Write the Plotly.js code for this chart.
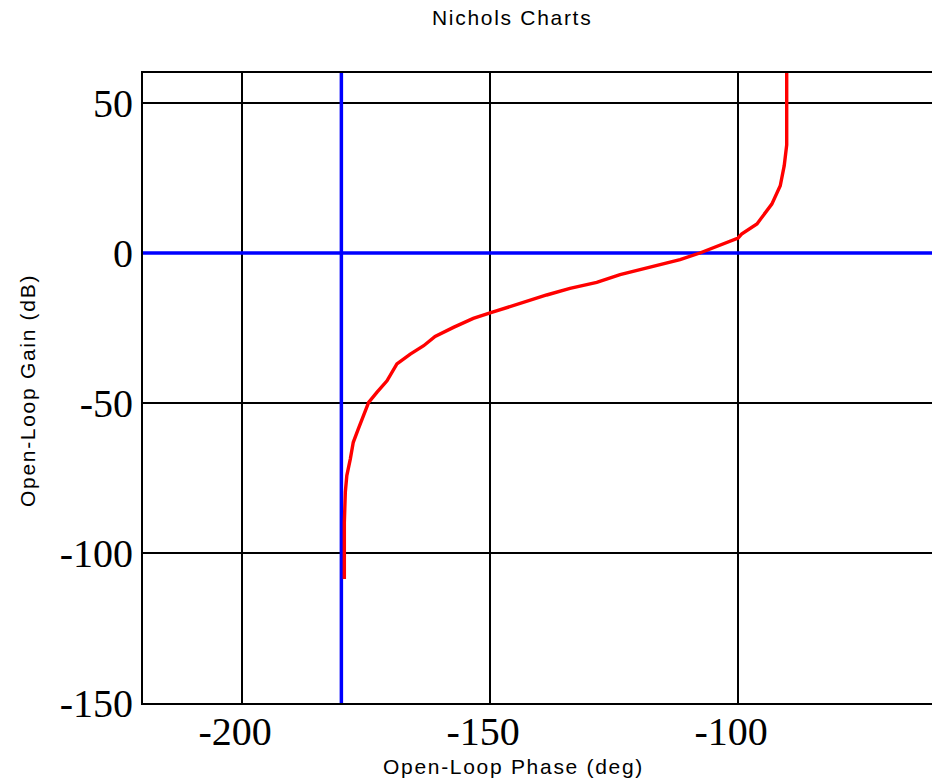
<!DOCTYPE html>
<html>
<head>
<meta charset="utf-8">
<script src="https://cdn.plot.ly/plotly-3.0.1.min.js"></script>
<style>
html,body{margin:0;padding:0;background:#fff;}
#chart{width:932px;height:779px;}
.annotation-text{letter-spacing:1.7px;}
</style>
</head>
<body>
<div id="chart"></div>
<script>
// Open-loop Nichols curve (phase in deg, gain in dB)
const phase = [-179.4, -179.4, -179.2, -178.9, -178.2, -177.6, -176.6, -175.5, -174.5, -172.8,
  -170.8, -168.8, -166.1, -163.4, -161.1, -157.4, -153.4, -149.7, -144.0, -138.6,
  -133.9, -128.5, -123.8, -118.4, -111.7, -107.7, -103.0, -100.0, -99.3, -96.2,
  -93.2, -91.5, -90.7, -90.3, -90.2, -90.2];
const gain = [-108.7, -89.8, -79.7, -74.2, -68.7, -63.1, -58.7, -54.2, -49.8, -46.4,
  -42.6, -37.0, -33.7, -30.9, -27.8, -24.8, -21.8, -19.8, -16.7, -14.0,
  -11.8, -9.8, -7.2, -5.0, -2.2, 0.0, 3.0, 5.0, 6.3, 9.7,
  16.3, 22.4, 29.1, 34.7, 36.0, 62.0];

// Reference (critical) lines: -180 deg and 0 dB
const critPhaseX = [-180, -180];
const critPhaseY = [-150, 60];
const zeroGainX = [-220, -60];
const zeroGainY = [0, 0];

const xTicks = [-200, -150, -100];
const yTicks = [-150, -100, -50, 0, 50];

const traces = [
  {x: critPhaseX, y: critPhaseY, mode: 'lines', line: {color: '#0000ff', width: 3.5}, hoverinfo: 'skip'},
  {x: zeroGainX, y: zeroGainY, mode: 'lines', line: {color: '#0000ff', width: 3.5}, hoverinfo: 'skip'},
  {x: phase, y: gain, mode: 'lines', line: {color: '#ff0000', width: 3.4}}
];

const L = 143, R = 932, T = 73, B = 76, H = 779;
const py = p => (H - p - B) / (H - T - B);
const px = p => (p - L) / (R - L);
const layout = {
  width: 932, height: 779,
  margin: {l: L, r: 0, t: T, b: B},
  paper_bgcolor: '#ffffff', plot_bgcolor: '#ffffff',
  showlegend: false,
  xaxis: {
    range: [-220, -60.9], tickvals: xTicks, ticktext: xTicks.map(String),
    showgrid: true, gridcolor: '#000000', gridwidth: 1.6,
    showline: true, linecolor: '#000000', linewidth: 2, mirror: true,
    zeroline: false, ticks: '', ticklabelshift: -7, ticklabelstandoff: -8,
    tickfont: {family: 'Liberation Serif', size: 40, color: '#000'}
  },
  yaxis: {
    range: [-150, 60], tickvals: yTicks, ticktext: yTicks.map(String),
    showgrid: true, gridcolor: '#000000', gridwidth: 1.6,
    showline: true, linecolor: '#000000', linewidth: 2, mirror: false,
    zeroline: false, ticks: '',
    tickfont: {family: 'Liberation Serif', size: 40, color: '#000'}
  },
  annotations: [
    {text: 'Nichols Charts', xref: 'paper', yref: 'paper', x: px(512), y: py(17),
     showarrow: false, xanchor: 'center', yanchor: 'middle', font: {family: 'Liberation Sans', size: 21, color: '#000'}},
    {text: 'Open-Loop Phase (deg)', xref: 'paper', yref: 'paper', x: px(513), y: py(766),
     showarrow: false, xanchor: 'center', yanchor: 'middle', font: {family: 'Liberation Sans', size: 21, color: '#000'}},
    {text: 'Open-Loop Gain (dB)', xref: 'paper', yref: 'paper', x: px(27), y: py(391), textangle: -90,
     showarrow: false, xanchor: 'center', yanchor: 'middle', font: {family: 'Liberation Sans', size: 21, color: '#000'}}
  ]
};

Plotly.newPlot('chart', traces, layout, {displayModeBar: false, staticPlot: true});
</script>
</body>
</html>
